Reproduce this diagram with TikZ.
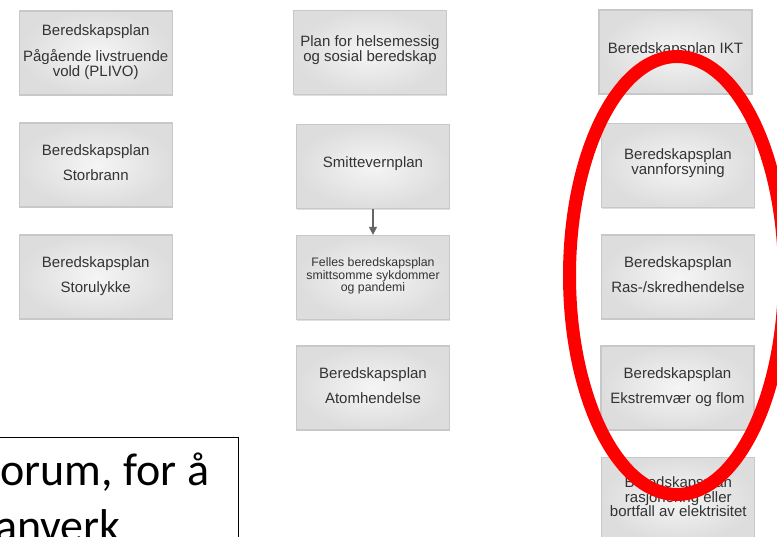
\documentclass[tikz,border=0pt]{standalone}
\usepackage{fontspec}
\setmainfont{Liberation Sans}
\newfontfamily\calib{Carlito}
\usetikzlibrary{arrows.meta,shadows}
\definecolor{boxborder}{HTML}{C8C8C8}
\definecolor{boxtext}{HTML}{333333}
\definecolor{boxin}{HTML}{F5F5F5}
\definecolor{boxout}{HTML}{DDDDDD}
\definecolor{arrowgray}{HTML}{666666}
\definecolor{markred}{HTML}{FF0000}
\begin{document}
\begin{tikzpicture}[x=1pt,y=-1pt,
  planbox/.style={draw=boxborder, line width=1.2pt, inner color=boxin, outer color=boxout,
    minimum width=153pt, minimum height=84pt, align=center, text=boxtext,
    font=\fontsize{15}{13}\selectfont, inner sep=2pt, text depth=5pt,
    drop shadow={shadow xshift=0.6pt, shadow yshift=-1.4pt, opacity=0.25}},
  smallplan/.style={planbox, font=\fontsize{12.3}{11.3}\selectfont},
  flow/.style={arrowgray, line width=1.3pt, -{Triangle[width=8pt,length=8pt]}},
  ring/.style={markred, line width=13pt},
  bigtext/.style={font=\calib\fontsize{46}{56}\selectfont, inner sep=0pt, anchor=base west}]
\useasboundingbox (0,0) rectangle (777,537);
\clip (0,0) rectangle (777,537);
% left column
\node[planbox] (plivo) at (95.7,53) {Beredskapsplan\\[10pt]Pågående livstruende\\vold (PLIVO)};
\node[planbox] (storbrann) at (95.7,165) {Beredskapsplan\\[10pt]Storbrann};
\node[planbox] (storulykke) at (95.7,277) {Beredskapsplan\\[10pt]Storulykke};
% middle column
\node[planbox, text depth=8pt] (helse) at (370,52.5) {Plan for helsemessig\\og sosial beredskap};
\node[planbox, text depth=8pt] (smitte) at (373,166.5) {Smittevernplan};
\node[smallplan] (felles) at (373,277.5) {Felles beredskapsplan\\smittsomme sykdommer\\og pandemi};
\node[planbox] (atom) at (373,388) {Beredskapsplan\\[10pt]Atomhendelse};
% right column
\node[planbox, text depth=8pt] (ikt) at (675.5,52) {Beredskapsplan IKT};
\node[planbox, text depth=9pt] (vann) at (678,165.8) {Beredskapsplan\\vannforsyning};
\node[planbox] (ras) at (678,277) {Beredskapsplan\\[10pt]Ras-/skredhendelse};
\node[planbox] (ekstrem) at (677.5,388) {Beredskapsplan\\[10pt]Ekstremvær og flom};
\node[planbox, font=\fontsize{15}{14.5}\selectfont] (rasjon) at (678.3,499.5) {Beredskapsplan\\rasjonering eller\\bortfall av elektrisitet};
% connector
\draw[flow] (smitte.south) -- (felles.north);
% text box
\draw[black, line width=1.3pt] (-5,437.5) rectangle (238.5,570);
\node[bigtext] (line1) at (0,485) {orum, for å};
\node[bigtext] (line2) at (-5,541) {anverk};
% red ellipse
\draw[ring] (677,275.5) ellipse [x radius=107.5, y radius=219];
\end{tikzpicture}
\end{document}
